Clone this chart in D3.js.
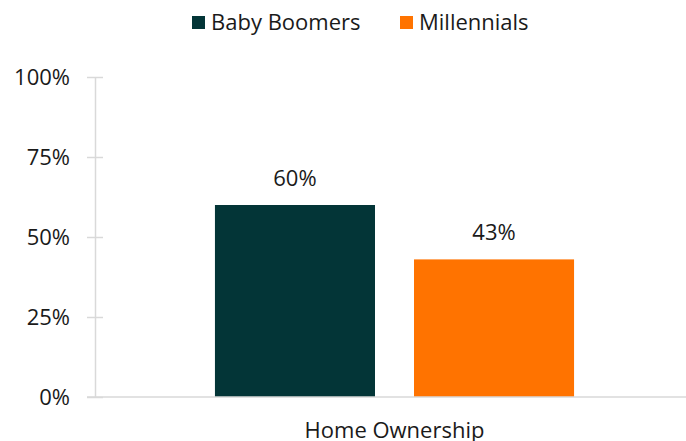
<!DOCTYPE html>
<html>
<head>
<meta charset="utf-8">
<script src="https://cdn.jsdelivr.net/npm/d3@7"></script>
<style>
  body { margin: 0; background: #fff; }
  svg { display: block; font-family: "Open Sans", "Noto Sans", sans-serif; }
  .axis path, .axis line { stroke: #d9d9d9; stroke-width: 1.5; }
  .axis text { fill: #1a1a1a; font-size: 22px; font-family: "Open Sans", "Noto Sans", sans-serif; }
</style>
</head>
<body>
<svg id="chart" width="686" height="441"></svg>
<script>
(function() {

var categories = ['Home Ownership'];
var seriesNames = ['Baby Boomers', 'Millennials'];
var seriesValues = [0.60, 0.43];
var seriesColors = ['#033537', '#ff7300'];
var yTicks = [0, 0.25, 0.5, 0.75, 1];

var svg = d3.select('#chart');

var plot = {left: 95, right: 694, top: 77, bottom: 397};

var x = d3.scaleBand()
    .domain(categories)
    .range([plot.left, plot.right])
    .paddingOuter(0.334)
    .paddingInner(0);

var xInner = d3.scaleBand()
    .domain(seriesNames)
    .range([0, x.bandwidth()])
    .paddingInner(0.196);

var y = d3.scaleLinear()
    .domain([0, 1])
    .range([plot.bottom, plot.top]);

// y axis
var yAxis = svg.append('g')
    .attr('class', 'axis')
    .attr('transform', 'translate(' + plot.left + ',0)')
    .call(d3.axisLeft(y).tickValues(yTicks).tickSize(8).tickSizeOuter(0)
        .tickFormat(d3.format('.0%')));
yAxis.selectAll('.tick line').attr('x2', 8).attr('x1', -8);
yAxis.selectAll('.tick text').attr('x', -25);

// bars
var bars = seriesNames.map(function(s, i) {
    return {name: s, value: seriesValues[i], color: seriesColors[i], cat: categories[0]};
});

svg.selectAll('.bar')
    .data(bars)
  .enter().append('rect')
    .attr('class', 'bar')
    .attr('x', function(d) { return x(d.cat) + xInner(d.name); })
    .attr('width', xInner.bandwidth())
    .attr('y', function(d) { return y(d.value); })
    .attr('height', function(d) { return y(0) - y(d.value); })
    .attr('fill', function(d) { return d.color; });

svg.selectAll('.value-label')
    .data(bars)
  .enter().append('text')
    .attr('class', 'value-label')
    .attr('x', function(d) { return x(d.cat) + xInner(d.name) + xInner.bandwidth() / 2; })
    .attr('y', function(d) { return y(d.value) - 19; })
    .attr('text-anchor', 'middle')
    .attr('font-size', 22)
    .attr('fill', '#1a1a1a')
    .text(function(d) { return d3.format('.0%')(d.value); });

// x axis
var xAxis = svg.append('g')
    .attr('class', 'axis')
    .attr('transform', 'translate(0,' + plot.bottom + ')')
    .call(d3.axisBottom(x).tickSize(0).tickSizeOuter(0));
xAxis.select('.domain').attr('d', 'M' + (plot.left - 8) + ',0H686');
xAxis.selectAll('.tick text').attr('dy', 0).attr('y', 41);

// legend
var legendItems = [
    {name: seriesNames[0], color: seriesColors[0], x: 192},
    {name: seriesNames[1], color: seriesColors[1], x: 400}
];
var legend = svg.selectAll('.legend')
    .data(legendItems)
  .enter().append('g')
    .attr('class', 'legend')
    .attr('transform', function(d) { return 'translate(' + d.x + ',16)'; });
legend.append('rect')
    .attr('width', 13)
    .attr('height', 13)
    .attr('fill', function(d) { return d.color; });
legend.append('text')
    .attr('x', 19)
    .attr('y', 14)
    .attr('font-size', 22)
    .attr('fill', '#1a1a1a')
    .text(function(d) { return d.name; });

})();
</script>
</body>
</html>
